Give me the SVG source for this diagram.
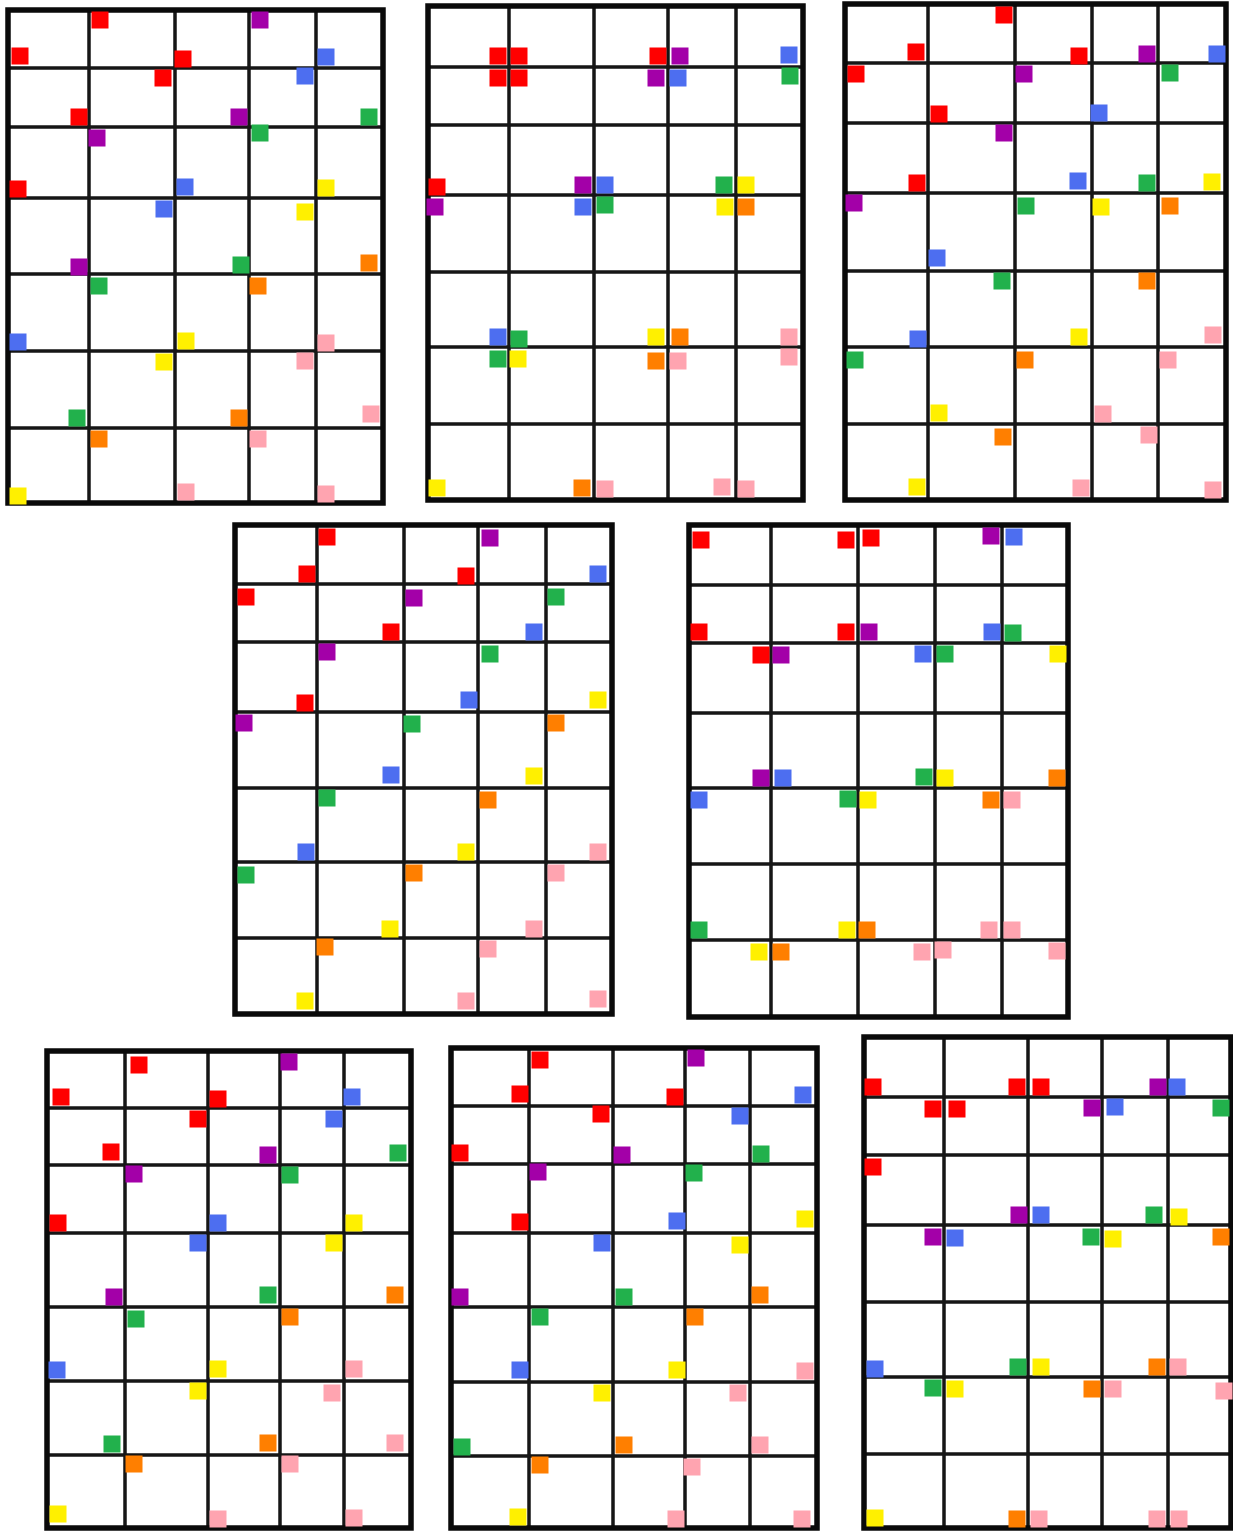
<svg xmlns="http://www.w3.org/2000/svg" xmlns:xlink="http://www.w3.org/1999/xlink" width="1233" height="1531" viewBox="0 0 1233 1531">
<style>
.frame{fill:none;stroke:#0a0a0a;stroke-width:5.5}
.grid{fill:none;stroke:#161616;stroke-width:3.5}
</style>
<defs>
<rect id="R" x="-8.5" y="-8.5" width="17" height="17" fill="#ff0000"/>
<rect id="P" x="-8.5" y="-8.5" width="17" height="17" fill="#a300a8"/>
<rect id="B" x="-8.5" y="-8.5" width="17" height="17" fill="#4d6ef0"/>
<rect id="G" x="-8.5" y="-8.5" width="17" height="17" fill="#22b14c"/>
<rect id="Y" x="-8.5" y="-8.5" width="17" height="17" fill="#fff000"/>
<rect id="O" x="-8.5" y="-8.5" width="17" height="17" fill="#ff7f00"/>
<rect id="K" x="-8.5" y="-8.5" width="17" height="17" fill="#ffa4b0"/>
</defs>
<rect width="1233" height="1531" fill="#fff"/>

<g id="grid1">
<path class="grid" d="M89 10V503M175 10V503M249 10V503M316 10V503M8 68H383M8 127H383M8 198H383M8 274H383M8 351H383M8 428H383"/>
<rect class="frame" x="8" y="10" width="375" height="493"/>
<use href="#R" x="100" y="20"/><use href="#P" x="260" y="20"/>
<use href="#R" x="20" y="56"/><use href="#R" x="183" y="59"/><use href="#B" x="326" y="57"/>
<use href="#R" x="163" y="78"/><use href="#B" x="305" y="76"/>
<use href="#R" x="79" y="117"/><use href="#P" x="239" y="117"/><use href="#G" x="369" y="117"/>
<use href="#P" x="97" y="138"/><use href="#G" x="260" y="133"/>
<use href="#R" x="18" y="189"/><use href="#B" x="185" y="187"/><use href="#Y" x="326" y="188"/>
<use href="#B" x="164" y="209"/><use href="#Y" x="305" y="212"/>
<use href="#P" x="79" y="267"/><use href="#G" x="241" y="265"/><use href="#O" x="369" y="263"/>
<use href="#G" x="99" y="286"/><use href="#O" x="258" y="286"/>
<use href="#B" x="18" y="342"/><use href="#Y" x="186" y="341"/><use href="#K" x="326" y="343"/>
<use href="#Y" x="164" y="362"/><use href="#K" x="305" y="361"/>
<use href="#G" x="77" y="418"/><use href="#O" x="239" y="418"/><use href="#K" x="371" y="414"/>
<use href="#O" x="99" y="439"/><use href="#K" x="258" y="439"/>
<use href="#Y" x="18" y="496"/><use href="#K" x="186" y="492"/><use href="#K" x="326" y="494"/>
</g>

<g id="grid2">
<path class="grid" d="M509 6V500M594 6V500M668 6V500M736 6V500M428 67H803M428 125H803M428 195H803M428 272H803M428 347H803M428 424H803"/>
<rect class="frame" x="428" y="6" width="375" height="494"/>
<use href="#R" x="498" y="56"/><use href="#R" x="519" y="56"/><use href="#R" x="498" y="78"/><use href="#R" x="519" y="78"/>
<use href="#R" x="658" y="56"/><use href="#P" x="680" y="56"/><use href="#P" x="656" y="78"/><use href="#B" x="678" y="78"/>
<use href="#B" x="789" y="55"/><use href="#G" x="790" y="76"/>
<use href="#R" x="437" y="187"/><use href="#P" x="435" y="207"/>
<use href="#P" x="583" y="185"/><use href="#B" x="605" y="185"/><use href="#B" x="583" y="207"/><use href="#G" x="605" y="205"/>
<use href="#G" x="724" y="185"/><use href="#Y" x="746" y="185"/><use href="#Y" x="725" y="207"/><use href="#O" x="746" y="207"/>
<use href="#B" x="498" y="337"/><use href="#G" x="519" y="339"/><use href="#G" x="498" y="359"/><use href="#Y" x="518" y="359"/>
<use href="#Y" x="656" y="337"/><use href="#O" x="680" y="337"/><use href="#O" x="656" y="361"/><use href="#K" x="678" y="361"/>
<use href="#K" x="789" y="337"/><use href="#K" x="789" y="357"/>
<use href="#Y" x="437" y="488"/><use href="#O" x="582" y="488"/><use href="#K" x="605" y="489"/><use href="#K" x="722" y="487"/><use href="#K" x="746" y="489"/>
</g>

<g id="grid3">
<path class="grid" d="M928 4V500M1015 4V500M1092 4V500M1158 4V500M845 63H1226M845 123H1226M845 193H1226M845 271H1226M845 347H1226M845 424H1226"/>
<rect class="frame" x="845" y="4" width="381" height="496"/>
<use href="#R" x="1004" y="15"/>
<use href="#R" x="916" y="52"/><use href="#R" x="1079" y="56"/><use href="#P" x="1147" y="54"/><use href="#B" x="1217" y="54"/>
<use href="#R" x="856" y="74"/><use href="#P" x="1024" y="74"/><use href="#G" x="1170" y="73"/>
<use href="#R" x="939" y="114"/><use href="#B" x="1099" y="113"/>
<use href="#P" x="1004" y="133"/>
<use href="#R" x="917" y="183"/><use href="#B" x="1078" y="181"/><use href="#G" x="1147" y="183"/><use href="#Y" x="1212" y="182"/>
<use href="#P" x="854" y="203"/><use href="#G" x="1026" y="206"/><use href="#Y" x="1101" y="207"/><use href="#O" x="1170" y="206"/>
<use href="#B" x="937" y="258"/>
<use href="#G" x="1002" y="281"/><use href="#O" x="1147" y="281"/>
<use href="#B" x="918" y="339"/><use href="#Y" x="1079" y="337"/><use href="#K" x="1213" y="335"/>
<use href="#G" x="855" y="360"/><use href="#O" x="1025" y="360"/><use href="#K" x="1168" y="360"/>
<use href="#Y" x="939" y="413"/><use href="#K" x="1103" y="414"/>
<use href="#O" x="1003" y="437"/><use href="#K" x="1149" y="435"/>
<use href="#Y" x="917" y="487"/><use href="#K" x="1081" y="488"/><use href="#K" x="1213" y="490"/>
</g>

<g id="grid4">
<path class="grid" d="M317 525V1014M404 525V1014M478 525V1014M546 525V1014M235 584H612M235 642H612M235 712H612M235 788H612M235 862H612M235 938H612"/>
<rect class="frame" x="235" y="525" width="377" height="489"/>
<use href="#R" x="327" y="537"/><use href="#P" x="490" y="538"/>
<use href="#R" x="307" y="574"/><use href="#R" x="466" y="576"/><use href="#B" x="598" y="574"/>
<use href="#R" x="246" y="597"/><use href="#P" x="414" y="598"/><use href="#G" x="556" y="597"/>
<use href="#R" x="391" y="632"/><use href="#B" x="534" y="632"/>
<use href="#P" x="327" y="652"/><use href="#G" x="490" y="654"/>
<use href="#R" x="305" y="703"/><use href="#B" x="469" y="700"/><use href="#Y" x="598" y="700"/>
<use href="#P" x="244" y="723"/><use href="#G" x="412" y="724"/><use href="#O" x="556" y="723"/>
<use href="#B" x="391" y="775"/><use href="#Y" x="534" y="776"/>
<use href="#G" x="327" y="798"/><use href="#O" x="488" y="800"/>
<use href="#B" x="306" y="852"/><use href="#Y" x="466" y="852"/><use href="#K" x="598" y="852"/>
<use href="#G" x="246" y="875"/><use href="#O" x="414" y="873"/><use href="#K" x="556" y="873"/>
<use href="#Y" x="390" y="929"/><use href="#K" x="534" y="929"/>
<use href="#O" x="325" y="947"/><use href="#K" x="488" y="949"/>
<use href="#Y" x="305" y="1001"/><use href="#K" x="466" y="1001"/><use href="#K" x="598" y="999"/>
</g>

<g id="grid5">
<path class="grid" d="M771 525V1017M858 525V1017M935 525V1017M1002 525V1017M689 585H1068M689 643H1068M689 713H1068M689 788H1068M689 864H1068M689 940H1068"/>
<rect class="frame" x="689" y="525" width="379" height="492"/>
<use href="#R" x="701" y="540"/><use href="#R" x="846" y="540"/><use href="#R" x="871" y="538"/><use href="#P" x="991" y="536"/><use href="#B" x="1014" y="537"/>
<use href="#R" x="699" y="632"/><use href="#R" x="846" y="632"/><use href="#P" x="869" y="632"/><use href="#B" x="992" y="632"/><use href="#G" x="1013" y="633"/>
<use href="#R" x="761" y="655"/><use href="#P" x="781" y="655"/><use href="#B" x="923" y="654"/><use href="#G" x="945" y="654"/><use href="#Y" x="1058" y="654"/>
<use href="#P" x="761" y="778"/><use href="#B" x="783" y="778"/><use href="#G" x="924" y="777"/><use href="#Y" x="945" y="778"/><use href="#O" x="1057" y="778"/>
<use href="#B" x="699" y="800"/><use href="#G" x="848" y="799"/><use href="#Y" x="868" y="800"/><use href="#O" x="991" y="800"/><use href="#K" x="1012" y="800"/>
<use href="#G" x="699" y="930"/><use href="#Y" x="847" y="930"/><use href="#O" x="867" y="930"/><use href="#K" x="989" y="930"/><use href="#K" x="1012" y="930"/>
<use href="#Y" x="759" y="952"/><use href="#O" x="781" y="952"/><use href="#K" x="922" y="952"/><use href="#K" x="943" y="950"/><use href="#K" x="1057" y="951"/>
</g>

<g id="grid6">
<path class="grid" d="M125 1051V1528M208 1051V1528M280 1051V1528M344 1051V1528M47 1108H411M47 1165H411M47 1233H411M47 1307H411M47 1381H411M47 1455H411"/>
<rect class="frame" x="47" y="1051" width="364" height="477"/>
<use href="#R" x="139" y="1065"/><use href="#P" x="289" y="1062"/>
<use href="#R" x="61" y="1097"/><use href="#R" x="218" y="1099"/><use href="#B" x="352" y="1097"/>
<use href="#R" x="198" y="1119"/><use href="#B" x="334" y="1119"/>
<use href="#R" x="111" y="1152"/><use href="#P" x="268" y="1155"/><use href="#G" x="398" y="1153"/>
<use href="#P" x="134" y="1174"/><use href="#G" x="290" y="1175"/>
<use href="#R" x="58" y="1223"/><use href="#B" x="218" y="1223"/><use href="#Y" x="354" y="1223"/>
<use href="#B" x="198" y="1243"/><use href="#Y" x="334" y="1243"/>
<use href="#P" x="114" y="1297"/><use href="#G" x="268" y="1295"/><use href="#O" x="395" y="1295"/>
<use href="#G" x="136" y="1319"/><use href="#O" x="290" y="1317"/>
<use href="#B" x="57" y="1370"/><use href="#Y" x="218" y="1369"/><use href="#K" x="354" y="1369"/>
<use href="#Y" x="198" y="1391"/><use href="#K" x="332" y="1393"/>
<use href="#G" x="112" y="1444"/><use href="#O" x="268" y="1443"/><use href="#K" x="395" y="1443"/>
<use href="#O" x="134" y="1464"/><use href="#K" x="290" y="1464"/>
<use href="#Y" x="58" y="1514"/><use href="#K" x="218" y="1519"/><use href="#K" x="354" y="1518"/>
</g>

<g id="grid7">
<path class="grid" d="M529 1048V1528M613 1048V1528M685 1048V1528M750 1048V1528M451 1106H817M451 1164H817M451 1233H817M451 1307H817M451 1382H817M451 1456H817"/>
<rect class="frame" x="451" y="1048" width="366" height="480"/>
<use href="#R" x="540" y="1060"/><use href="#P" x="696" y="1058"/>
<use href="#R" x="520" y="1094"/><use href="#R" x="675" y="1097"/><use href="#B" x="803" y="1095"/>
<use href="#R" x="601" y="1114"/><use href="#B" x="740" y="1116"/>
<use href="#R" x="460" y="1153"/><use href="#P" x="622" y="1155"/><use href="#G" x="761" y="1154"/>
<use href="#P" x="538" y="1172"/><use href="#G" x="694" y="1173"/>
<use href="#R" x="520" y="1222"/><use href="#B" x="677" y="1221"/><use href="#Y" x="805" y="1219"/>
<use href="#B" x="602" y="1243"/><use href="#Y" x="740" y="1245"/>
<use href="#P" x="460" y="1297"/><use href="#G" x="624" y="1297"/><use href="#O" x="760" y="1295"/>
<use href="#G" x="540" y="1317"/><use href="#O" x="695" y="1317"/>
<use href="#B" x="520" y="1370"/><use href="#Y" x="677" y="1370"/><use href="#K" x="805" y="1371"/>
<use href="#Y" x="602" y="1393"/><use href="#K" x="738" y="1393"/>
<use href="#G" x="462" y="1447"/><use href="#O" x="624" y="1445"/><use href="#K" x="760" y="1445"/>
<use href="#O" x="540" y="1465"/><use href="#K" x="692" y="1467"/>
<use href="#Y" x="518" y="1517"/><use href="#K" x="676" y="1519"/><use href="#K" x="802" y="1519"/>
</g>

<g id="grid8">
<path class="grid" d="M944 1037V1528M1028 1037V1528M1102 1037V1528M1168 1037V1528M864 1097H1231M864 1155H1231M864 1225H1231M864 1302H1231M864 1377H1231M864 1454H1231"/>
<rect class="frame" x="864" y="1037" width="367" height="491"/>
<use href="#R" x="873" y="1087"/><use href="#R" x="1017" y="1087"/><use href="#R" x="1041" y="1087"/><use href="#P" x="1158" y="1087"/><use href="#B" x="1177" y="1087"/>
<use href="#R" x="933" y="1109"/><use href="#R" x="957" y="1109"/><use href="#P" x="1092" y="1108"/><use href="#B" x="1115" y="1107"/><use href="#G" x="1221" y="1108"/>
<use href="#R" x="873" y="1167"/>
<use href="#P" x="1019" y="1215"/><use href="#B" x="1041" y="1215"/><use href="#G" x="1154" y="1215"/><use href="#Y" x="1179" y="1217"/>
<use href="#P" x="933" y="1237"/><use href="#B" x="955" y="1238"/><use href="#G" x="1091" y="1237"/><use href="#Y" x="1113" y="1239"/><use href="#O" x="1221" y="1237"/>
<use href="#B" x="875" y="1369"/><use href="#G" x="1018" y="1367"/><use href="#Y" x="1041" y="1367"/><use href="#O" x="1157" y="1367"/><use href="#K" x="1178" y="1367"/>
<use href="#G" x="933" y="1388"/><use href="#Y" x="955" y="1389"/><use href="#O" x="1092" y="1389"/><use href="#K" x="1113" y="1389"/><use href="#K" x="1224" y="1391"/>
<use href="#Y" x="875" y="1518"/><use href="#O" x="1017" y="1519"/><use href="#K" x="1039" y="1519"/><use href="#K" x="1157" y="1519"/><use href="#K" x="1179" y="1519"/>
</g>
</svg>
